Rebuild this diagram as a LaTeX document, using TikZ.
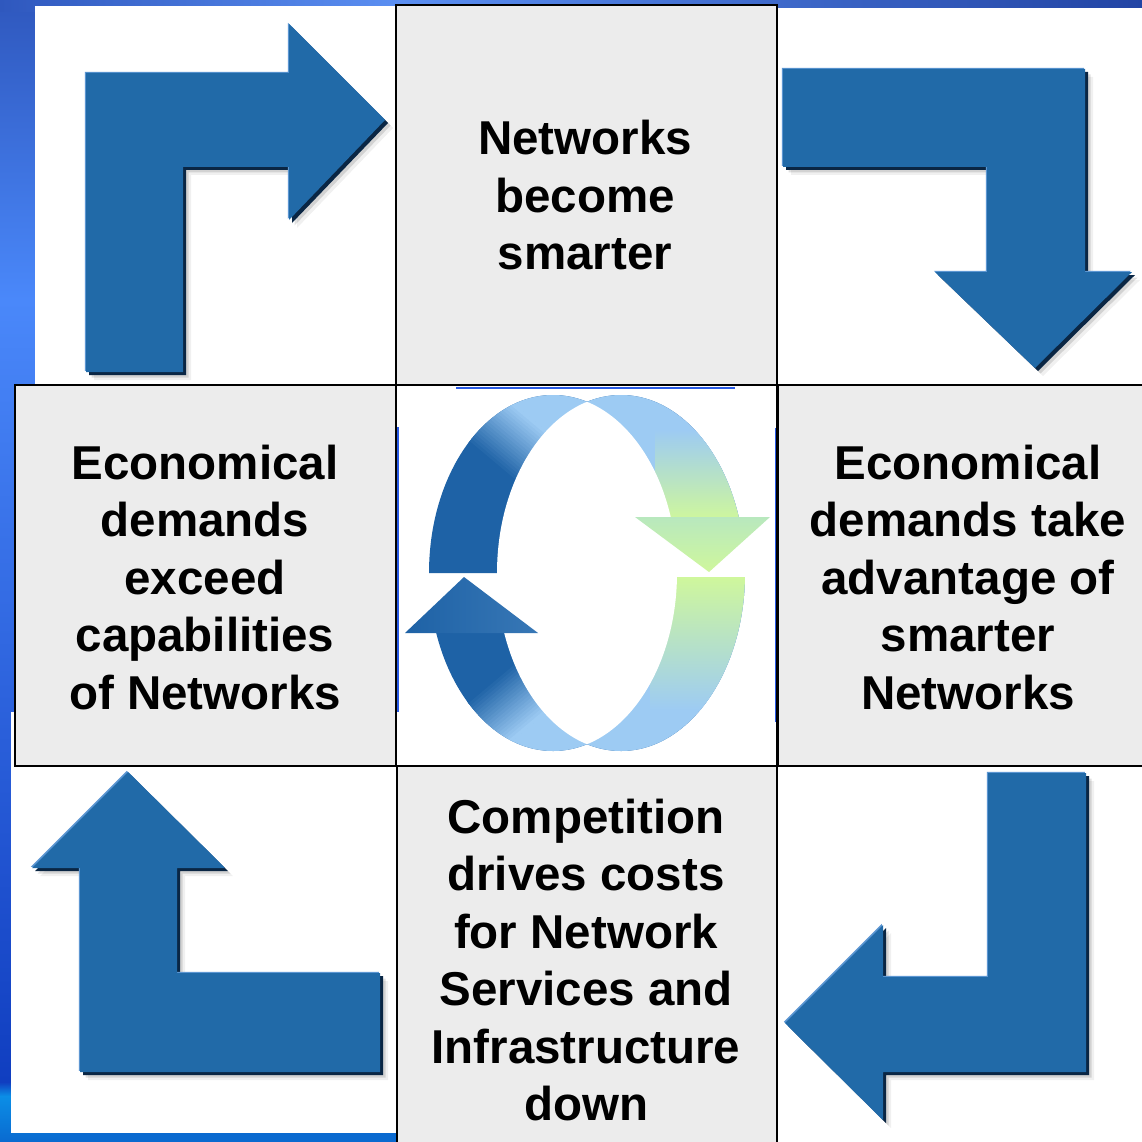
\documentclass[tikz,border=0pt]{standalone}
\usepackage{fontspec}
\setmainfont{Liberation Sans}
\definecolor{arrowblue}{RGB}{33,106,168}
\definecolor{arrowdark}{RGB}{10,38,68}
\definecolor{arrowhi}{RGB}{92,150,210}
\definecolor{boxgray}{RGB}{236,236,236}
\definecolor{cdark}{RGB}{30,98,166}
\definecolor{clight}{RGB}{157,203,243}
\definecolor{cgreen}{RGB}{207,247,156}
\definecolor{cmint}{RGB}{184,232,190}
\definecolor{bgA}{RGB}{47,88,190}
\definecolor{bgB}{RGB}{74,136,250}
\definecolor{bgC}{RGB}{16,62,192}
\definecolor{bgD}{RGB}{11,142,230}
\definecolor{bgE}{RGB}{10,106,208}
\definecolor{bgF}{RGB}{34,68,164}
\definecolor{bgG}{RGB}{91,143,242}
\definecolor{artblue}{RGB}{40,90,230}
\tikzset{
  gbox/.style={fill=boxgray, draw=black, line width=2.4pt},
  wbox/.style={fill=white, draw=black, line width=2.4pt},
  boxtext/.style={align=center, inner sep=0pt, text=black,
    font=\fontsize{47.5}{57.5}\selectfont\bfseries},
  tlpath/.style={insert path={(86,372) -- (86,73) -- (289,73) -- (289,24) -- (385,120) -- (289,220) -- (289,167) -- (183,167) -- (183,372) -- cycle}},
  trpath/.style={insert path={(783,69) -- (1085,69) -- (1085,272) -- (1132,272) -- (1035,368) -- (935,272) -- (987,272) -- (987,167) -- (783,167) -- cycle}},
  blpath/.style={insert path={(380,1072) -- (80,1072) -- (80,868) -- (32,868) -- (128,772) -- (225,868) -- (177,868) -- (177,973) -- (380,973) -- cycle}},
  brpath/.style={insert path={(1086,773) -- (1086,1072) -- (883,1072) -- (883,1120) -- (785,1023) -- (883,925) -- (883,977) -- (988,977) -- (988,773) -- cycle}},
  ellA/.style={insert path={(553,573) ellipse [x radius=124pt, y radius=178pt]}},
  ellB/.style={insert path={(621,573) ellipse [x radius=124pt, y radius=178pt]}},
}
\newcommand\cornerarrow[1]{%
  \fill[black, opacity=.06, shift={(8,8)}, #1];
  \fill[black, opacity=.12, shift={(5.5,5.5)}, #1];
  \fill[arrowdark, shift={(3,3)}, #1];
  \fill[arrowhi, shift={(-1.2,-1.2)}, #1];
  \fill[arrowblue, #1];
}
% stepped gradient along local x, from -30 to +30, dark -> light
\newcommand\bandgrad{%
  \foreach \i in {0,...,19} {%
    \pgfmathsetmacro\pc{100-\i*100/19}%
    \fill[cdark!\pc!clight] ({-30+\i*3},-300) rectangle ({-30+\i*3+3.6},300);
  }%
  \fill[clight] (30,-300) rectangle (500,300);
}
\begin{document}
\begin{tikzpicture}[x=1pt, y=-1pt]
\useasboundingbox (0,0) rectangle (1142,1142);
% background
\shade[top color=bgA, bottom color=bgB] (0,0) rectangle (60,300);
\shade[top color=bgB, bottom color=bgC] (0,300) rectangle (60,1082);
\shade[top color=bgC, bottom color=bgD] (0,1082) rectangle (60,1096);
\shade[top color=bgD, bottom color=bgE] (0,1096) rectangle (60,1142);
\fill[bgE] (60,1110) rectangle (420,1142);
\shade[left color=bgA, right color=bgG] (0,0) rectangle (400,12);
\shade[left color=bgG, right color=bgF] (400,0) rectangle (1142,12);
% white squares
\fill[white] (35,6) rectangle (396,386);
\fill[white] (777,8) rectangle (1142,386);
\fill[white] (11,712) rectangle (397,1133);
\fill[white] (777,766) rectangle (1142,1142);
% corner arrows
\cornerarrow{tlpath}
\cornerarrow{trpath}
\cornerarrow{blpath}
\cornerarrow{brpath}
% gray boxes
\draw[gbox] (396,5) rectangle (777,385);
\draw[gbox] (15,385) rectangle (396,766);
\draw[gbox] (778,385) rectangle (1160,766);
\draw[gbox] (397,766) rectangle (777,1160);
\draw[wbox] (396,385) rectangle (777,766);
% artefact blue lines
\draw[artblue, line width=1.8pt] (456,388.2) -- (735,388.2);
\draw[artblue, line width=1.6pt] (398,427) -- (398,712);
\draw[artblue, line width=1.6pt] (775.5,428) -- (775.5,722);
% cycle icon: upper arrow body
\begin{scope}
  \clip (400,388) -- (780,388) -- (780,517) -- (587,517) -- (587,573) -- (400,573) -- cycle;
  \clip[ellA, ellB];
  \fill[cdark] (400,388) rectangle (780,575);
  \begin{scope}[shift={(508,438)}, rotate=50]
    \bandgrad
  \end{scope}
  \shade[top color=clight, bottom color=cgreen] (655,430) rectangle (780,520);
\end{scope}
% lower arrow body
\begin{scope}
  \clip (400,633) -- (587,633) -- (587,577) -- (780,577) -- (780,760) -- (400,760) -- cycle;
  \clip[ellA, ellB];
  \fill[cdark] (400,570) rectangle (780,760);
  \begin{scope}[shift={(500,712)}, rotate=-50]
    \bandgrad
  \end{scope}
  \shade[top color=cgreen, bottom color=clight] (650,577) rectangle (780,710);
\end{scope}
% inner lens
\begin{scope}
  \clip[ellA];
  \fill[white, ellB];
\end{scope}
% arrow heads
\shade[top color=cmint, bottom color=cgreen] (635,517) -- (770,517) -- (709,572) -- cycle;
\shade[left color=cdark, right color=cdark!80!clight] (405,633) -- (538,633) -- (464,577) -- cycle;
% texts
\node[boxtext] (ttop) at (585,195.5) {Networks\\become\\smarter};
\node[boxtext] (tleft) at (205,577.5) {Economical\\demands\\exceed\\capabilities\\of Networks};
\node[boxtext] (tright) at (968,577.5) {Economical\\demands take\\advantage of\\smarter\\Networks};
\node[boxtext] (tbottom) at (586,960) {Competition\\drives costs\\for Network\\Services and\\Infrastructure\\down};
\end{tikzpicture}
\end{document}
